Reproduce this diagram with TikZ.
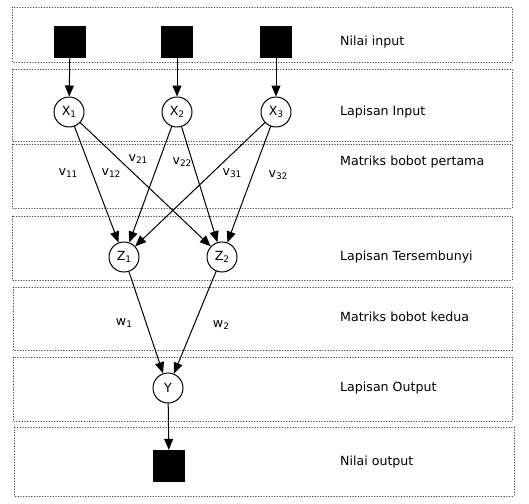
\documentclass[tikz,border=0pt]{standalone}
\usepackage{fontspec}
\setmainfont{DejaVu Sans}
\usetikzlibrary{arrows.meta}
\definecolor{band}{HTML}{4A4A4A}
\newcommand\idx[1]{\raisebox{-0.3ex}{\fontsize{9}{10}\selectfont #1}}

\begin{document}
\begin{tikzpicture}[x=1pt,y=-1pt,line cap=round,line join=round,
    font=\fontsize{12.6}{14}\selectfont,
    layer/.style={draw=band,dotted,line width=0.7pt},
    unit/.style={circle,draw,line width=1pt,minimum size=30pt,inner sep=0pt},
    value/.style={fill=black,minimum size=32pt,inner sep=0pt},
    caption/.style={anchor=west,inner sep=0pt},
    wlabel/.style={inner sep=0pt},
    link/.style={line width=1pt,-{Triangle[length=11pt,width=9pt]}}]
    \useasboundingbox (0,0) rectangle (529,503);
    % dotted bands
    \foreach \ya/\yb/\xa/\xb in {7/62/12/512,69/141/12/512,144/208/12/512,216/280/12/512,287/350/13/512,357/421/13/512,427/496/14/514}
      \draw[layer] (\xa,\ya) rectangle (\xb,\yb);
    % input values and input layer
    \node[value] (in1) at (70,42) {};
    \node[value] (in2) at (177,42) {};
    \node[value] (in3) at (276,42) {};
    \node[unit] (x1) at (69,112) {X\idx{1}};
    \node[unit] (x2) at (177,112) {X\idx{2}};
    \node[unit] (x3) at (276,112) {X\idx{3}};
    % hidden and output layer
    \node[unit] (z1) at (124,257) {Z\idx{1}};
    \node[unit] (z2) at (222,257) {Z\idx{2}};
    \node[unit] (y) at (168,388) {Y};
    \node[value] (out) at (169,466) {};
    % connections
    \foreach \i in {1,2,3} \draw[link] (in\i) -- (x\i);
    \foreach \i in {1,2,3} \foreach \j in {1,2} \draw[link] (x\i) -- (z\j);
    \foreach \j in {1,2} \draw[link] (z\j) -- (y);
    \draw[link] (y) -- (out);
    % weights
    \node[wlabel] (v11) at (68,173) {v\idx{11}};
    \node[wlabel] (v12) at (111,173) {v\idx{12}};
    \node[wlabel] (v21) at (138,159) {v\idx{21}};
    \node[wlabel] (v22) at (182,162) {v\idx{22}};
    \node[wlabel] (v31) at (232,173) {v\idx{31}};
    \node[wlabel] (v32) at (278,175) {v\idx{32}};
    \node[wlabel] (w1) at (124,323) {w\idx{1}};
    \node[wlabel] (w2) at (221,325) {w\idx{2}};
    % captions
    \node[caption] (c1) at (340,42) {Nilai input};
    \node[caption] (c2) at (340,112) {Lapisan Input};
    \node[caption] (c3) at (340,162) {Matriks bobot pertama};
    \node[caption] (c4) at (340,257) {Lapisan Tersembunyi};
    \node[caption] (c5) at (340,317) {Matriks bobot kedua};
    \node[caption] (c6) at (340,388) {Lapisan Output};
    \node[caption] (c7) at (340,462) {Nilai output};
\end{tikzpicture}
\end{document}
